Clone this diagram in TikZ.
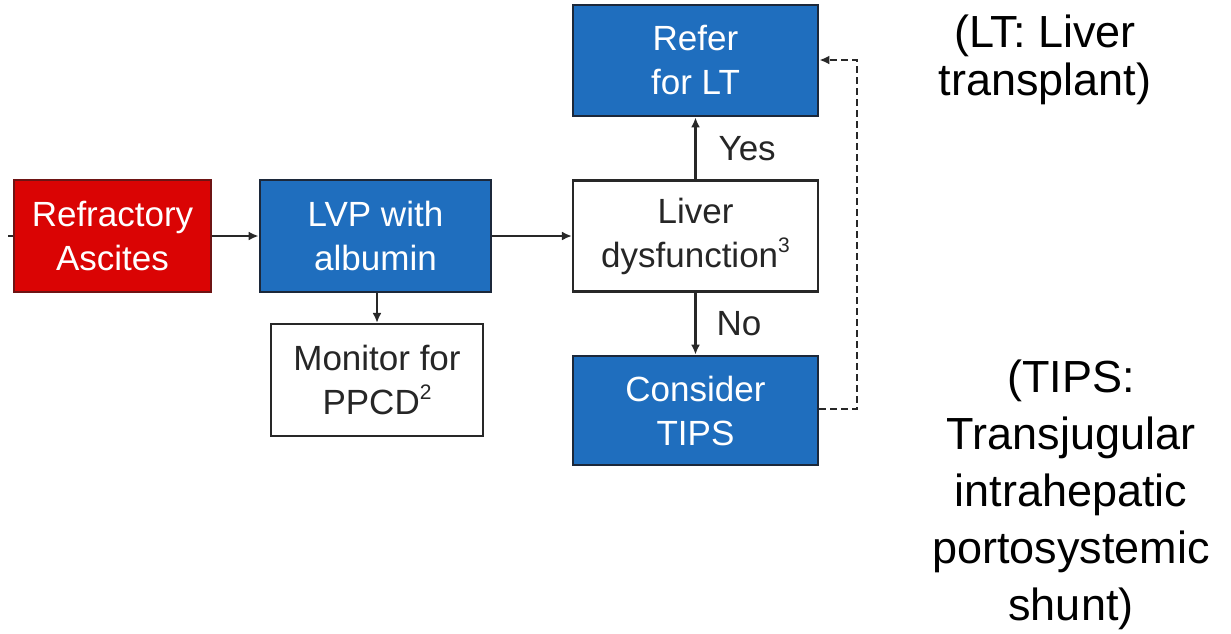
\documentclass[tikz,border=0pt]{standalone}
\usepackage{fontspec}
\setmainfont{Liberation Sans}
\usetikzlibrary{arrows.meta}
\definecolor{boxred}{RGB}{218,4,4}
\definecolor{boxredline}{RGB}{110,20,20}
\definecolor{boxblue}{RGB}{31,110,190}
\definecolor{boxblueline}{RGB}{28,40,58}
\definecolor{inkline}{RGB}{40,40,40}
% raised small index, top aligned with the ascenders
\newcommand{\upidx}[1]{\raisebox{0.42em}{\fontsize{21}{21}\selectfont #1}}
\tikzset{
  boxbase/.style={rectangle, inner sep=0pt, align=center,
    font=\fontsize{35}{44}\selectfont},
  redbox/.style={boxbase, fill=boxred, draw=boxredline, line width=2.8pt, text=white},
  bluebox/.style={boxbase, fill=boxblue, draw=boxblueline, line width=2.8pt, text=white},
  plainbox/.style={boxbase, fill=white, draw=inkline, line width=2.2pt, text=black!85},
  flow/.style={draw=inkline, line width=2.2pt, -{Latex[length=10pt,width=9pt]}},
  backflow/.style={draw=inkline, line width=2.2pt, dash pattern=on 7pt off 4pt,
    -{Latex[length=10pt,width=9pt]}},
  branchlabel/.style={font=\fontsize{35}{40}\selectfont, text=black!85, inner sep=0pt},
  noteText/.style={font=\fontsize{45}{48}\selectfont, align=center, inner sep=0pt}
}
\begin{document}
\begin{tikzpicture}[x=1pt,y=-1pt]
  \useasboundingbox (0,0) rectangle (1231,633);

  % main row
  \node[redbox, minimum width=197pt, minimum height=112pt] (ra) at (112.5,236) {Refractory\\Ascites};
  \node[bluebox, minimum width=231pt, minimum height=112pt] (lvp) at (375.5,236) {LVP with\\albumin};
  \node[plainbox, minimum width=212pt, minimum height=112pt] (mon) at (377,380) {Monitor for\\PPCD\upidx{2}};
  \node[plainbox, minimum width=245pt, minimum height=111pt] (liver) at (695.5,236) {Liver\\dysfunction\upidx{3}};

  % decision outcomes
  \node[bluebox, minimum width=245pt, minimum height=111pt] (refer) at (695.5,60.5) {Refer\\for LT};
  \node[bluebox, minimum width=245pt, minimum height=109pt] (tips) at (695.5,410.5) {Consider\\TIPS};

  % incoming stub on the left
  \coordinate (inlet) at (8,236);
  \draw[draw=inkline, line width=2.2pt] (inlet) -- (ra.west);

  % connectors
  \draw[flow] (ra.east) -- (lvp.west);
  \draw[flow] (lvp.east) -- (liver.west);
  \draw[flow] (lvp.south -| mon.north) -- (mon.north);
  \draw[flow] (liver.north) -- (refer.south)
    node[branchlabel, pos=0.5, right=22pt] (yes) {Yes};
  \draw[flow] (liver.south) -- (tips.north)
    node[branchlabel, pos=0.5, right=20pt] (no) {No};

  % dashed return from TIPS to the transplant referral
  \coordinate (loopbot) at (857,409);
  \coordinate (looptop) at (857,60);
  \draw[backflow] (tips.east |- loopbot) -- (loopbot) -- (looptop) -- (refer.east |- looptop);

  % abbreviations
  \node[noteText] (ltnote) at (1045,60) {(LT: Liver\\transplant)};
  \node[noteText, font=\fontsize{45}{57}\selectfont] (tipsnote) at (1071,495)
    {(TIPS:\\Transjugular\\intrahepatic\\portosystemic\\shunt)};
\end{tikzpicture}
\end{document}
